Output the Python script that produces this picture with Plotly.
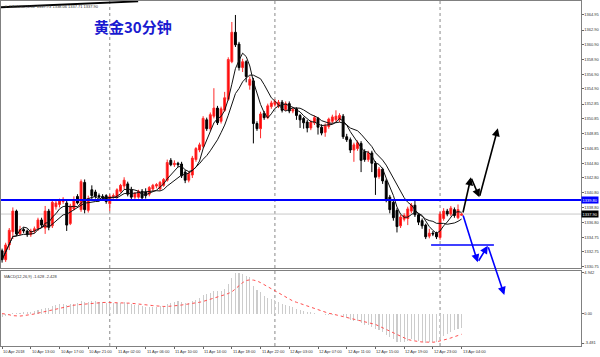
import plotly.graph_objects as go
import pandas as pd

# ---------------- data ----------------
bar_index = list(range(129))

opens = [1332.9, 1331.7, 1333.7, 1335.5, 1338.3, 1335.2, 1335.8, 1335.6, 1335.1, 1335.6,
         1335.9, 1337.1, 1336.0, 1338.3, 1336.3, 1338.9, 1339.2, 1339.6, 1339.4, 1336.6,
         1338.6, 1340.3, 1338.5, 1342.2, 1338.4, 1341.2, 1340.9, 1340.4, 1340.3, 1340.4,
         1339.3, 1340.3, 1340.2, 1341.0, 1341.7, 1342.0, 1341.2, 1340.2, 1340.2, 1341.0,
         1340.9, 1340.6, 1341.3, 1341.7, 1341.3, 1341.8, 1342.5, 1345.2, 1344.6, 1344.8,
         1344.7, 1343.6, 1342.5, 1343.2, 1345.3, 1346.6, 1347.1, 1350.7, 1349.5, 1351.2,
         1352.3, 1350.5, 1352.0, 1353.5, 1358.6, 1362.6, 1361.0, 1357.8, 1358.6, 1355.4,
         1356.0, 1350.2, 1349.5, 1351.6, 1351.0, 1352.5, 1352.8, 1352.6, 1353.1, 1352.1,
         1352.9, 1351.9, 1352.2, 1351.3, 1350.9, 1350.4, 1349.6, 1350.3, 1350.9, 1349.7,
         1349.0, 1349.8, 1350.5, 1350.7, 1350.7, 1351.2, 1348.4, 1348.0, 1346.6, 1346.8,
         1347.5, 1346.4, 1345.3, 1346.2, 1344.8, 1343.0, 1344.0, 1342.4, 1340.2, 1339.5,
         1338.4, 1336.3, 1337.2, 1337.3, 1338.3, 1339.1, 1337.8, 1337.0, 1336.4, 1334.9,
         1335.3, 1335.3, 1334.7, 1337.3, 1338.3, 1337.9, 1338.5, 1337.4, 1337.73]
highs = [1333.2, 1334.0, 1336.0, 1338.8, 1338.5, 1336.3, 1336.1, 1335.8, 1335.9, 1336.2,
         1337.4, 1337.4, 1339.0, 1338.6, 1339.8, 1339.8, 1340.0, 1340.2, 1339.9, 1339.3,
         1340.3, 1340.6, 1342.6, 1342.6, 1340.4, 1341.8, 1341.2, 1340.7, 1340.6, 1340.6,
         1340.6, 1340.7, 1341.4, 1342.0, 1342.9, 1342.3, 1341.6, 1340.9, 1341.2, 1341.3,
         1341.4, 1341.7, 1342.0, 1342.1, 1342.4, 1342.8, 1345.3, 1345.5, 1345.2, 1345.0,
         1345.0, 1343.9, 1343.7, 1345.8, 1347.0, 1347.6, 1351.2, 1351.0, 1351.7, 1355.0,
         1352.6, 1352.5, 1354.5, 1359.2, 1364.0, 1364.95, 1361.3, 1359.0, 1358.8, 1356.6,
         1356.4, 1350.5, 1351.8, 1351.9, 1352.9, 1353.3, 1353.5, 1353.4, 1353.4, 1353.2,
         1353.2, 1352.4, 1352.4, 1351.5, 1351.1, 1350.7, 1350.7, 1351.3, 1351.1, 1350.1,
         1350.2, 1351.0, 1351.4, 1352.0, 1351.6, 1351.5, 1348.8, 1348.3, 1347.6, 1347.9,
         1347.8, 1346.7, 1346.5, 1346.5, 1345.1, 1344.3, 1344.2, 1342.7, 1340.5, 1339.8,
         1338.7, 1337.8, 1338.0, 1338.9, 1339.4, 1339.8, 1338.0, 1337.3, 1336.6, 1335.9,
         1335.6, 1335.5, 1338.2, 1338.7, 1338.6, 1339.0, 1338.8, 1339.2, 1338.06]
lows = [1331.3, 1331.4, 1333.0, 1334.5, 1334.9, 1335.0, 1335.3, 1334.8, 1334.8, 1335.3,
        1335.6, 1336.1, 1335.2, 1335.7, 1336.0, 1338.5, 1338.8, 1339.3, 1335.6, 1336.4,
        1338.4, 1339.2, 1338.2, 1338.0, 1338.1, 1339.9, 1340.0, 1340.0, 1339.9, 1339.3,
        1338.3, 1340.0, 1340.0, 1340.8, 1341.3, 1340.3, 1339.9, 1339.9, 1340.0, 1339.8,
        1340.0, 1340.3, 1341.0, 1341.4, 1341.1, 1341.6, 1342.3, 1344.4, 1344.3, 1344.3,
        1342.8, 1342.1, 1342.2, 1342.8, 1345.0, 1346.3, 1346.8, 1349.2, 1349.2, 1350.9,
        1350.0, 1350.2, 1351.8, 1353.3, 1358.4, 1360.6, 1357.4, 1357.2, 1355.8, 1354.8,
        1347.5, 1349.2, 1348.2, 1350.7, 1350.8, 1352.2, 1352.5, 1352.3, 1351.7, 1351.9,
        1351.6, 1351.6, 1350.7, 1349.6, 1349.5, 1349.0, 1349.3, 1350.0, 1348.7, 1348.6,
        1348.4, 1349.5, 1350.2, 1350.4, 1350.4, 1348.1, 1347.7, 1346.2, 1345.0, 1346.5,
        1343.6, 1345.0, 1345.0, 1343.6, 1340.5, 1342.7, 1342.0, 1339.5, 1338.0, 1337.0,
        1335.4, 1336.0, 1336.9, 1336.4, 1338.0, 1337.5, 1336.4, 1335.9, 1334.5, 1334.6,
        1334.9, 1334.5, 1334.4, 1337.0, 1337.6, 1337.6, 1337.4, 1337.2, 1337.71]
closes = [1331.7, 1333.7, 1335.7, 1338.3, 1335.2, 1335.8, 1335.6, 1335.1, 1335.6, 1335.9,
          1337.1, 1336.4, 1338.3, 1336.1, 1339.5, 1339.4, 1339.7, 1339.9, 1336.4, 1339.0,
          1339.8, 1339.4, 1342.3, 1338.5, 1340.0, 1340.4, 1340.3, 1340.2, 1340.1, 1339.6,
          1340.3, 1340.4, 1341.2, 1341.8, 1342.5, 1340.6, 1340.2, 1340.7, 1341.0, 1340.1,
          1340.4, 1341.5, 1341.8, 1341.9, 1342.2, 1342.6, 1344.9, 1344.6, 1344.8, 1344.6,
          1343.1, 1342.5, 1343.4, 1345.5, 1346.8, 1347.3, 1350.9, 1349.5, 1351.4, 1352.3,
          1350.3, 1352.2, 1353.7, 1358.9, 1362.6, 1360.9, 1357.8, 1358.6, 1356.6, 1356.2,
          1350.2, 1349.5, 1351.5, 1351.0, 1352.6, 1353.0, 1353.2, 1353.1, 1352.0, 1352.9,
          1351.9, 1352.1, 1351.3, 1350.7, 1350.3, 1349.6, 1350.4, 1351.0, 1349.7, 1348.9,
          1349.9, 1350.8, 1351.1, 1351.2, 1351.3, 1348.4, 1348.0, 1346.6, 1347.3, 1347.6,
          1345.2, 1345.3, 1346.2, 1344.8, 1342.9, 1344.0, 1342.4, 1339.8, 1338.5, 1337.4,
          1336.2, 1337.5, 1337.7, 1338.6, 1339.1, 1337.8, 1336.8, 1336.3, 1334.8, 1335.3,
          1335.2, 1334.8, 1337.9, 1338.3, 1337.9, 1338.7, 1337.7, 1338.5, 1337.90]

macd_hist = [-0.35, -0.3, -0.15, 0.1, 0.1, 0.15, 0.2, 0.2, 0.25, 0.35,
             0.5, 0.6, 0.75, 0.75, 0.95, 1.05, 1.15, 1.25, 1.1, 1.15,
             1.25, 1.3, 1.5, 1.4, 1.45, 1.5, 1.5, 1.45, 1.4, 1.3,
             1.3, 1.3, 1.3, 1.35, 1.4, 1.3, 1.2, 1.1, 1.05, 0.95,
             0.85, 0.85, 0.85, 0.85, 0.9, 0.95, 1.2, 1.35, 1.45, 1.5,
             1.45, 1.35, 1.35, 1.5, 1.7, 1.9, 2.3, 2.35, 2.55, 2.7,
             2.7, 2.8, 3.0, 3.6, 4.3, 4.942, 4.85, 4.8, 4.6, 4.4,
             3.3, 2.9, 2.6, 2.2, 1.9, 1.8, 1.7, 1.4, 1.2, 1.05,
             0.95, 0.8, 0.65, 0.5, 0.4, 0.25, 0.2, 0.15, 0.05, -0.05,
             -0.1, -0.1, -0.1, -0.05, -0.05, -0.3, -0.45, -0.7, -0.8, -0.85,
             -1.1, -1.3, -1.35, -1.55, -1.85, -1.95, -2.15, -2.5, -2.8, -3.05,
             -3.35, -3.35, -3.3, -3.2, -3.05, -3.1, -3.2, -3.3, -3.481, -3.4,
             -3.35, -3.3, -2.95, -2.6, -2.35, -2.1, -1.95, -1.75, -1.628]
macd_signal = [0.05, 0.0, -0.1, -0.2, -0.25, -0.25, -0.2, -0.15, -0.1, 0.0,
               0.1, 0.2, 0.3, 0.4, 0.5, 0.6, 0.7, 0.8, 0.9, 0.95,
               1.05, 1.1, 1.15, 1.2, 1.25, 1.3, 1.32, 1.35, 1.37, 1.38,
               1.38, 1.37, 1.36, 1.35, 1.33, 1.3, 1.28, 1.25, 1.2, 1.15,
               1.1, 1.05, 1.0, 0.95, 0.92, 0.9, 0.9, 0.92, 0.97, 1.02,
               1.07, 1.12, 1.17, 1.22, 1.3, 1.4, 1.5, 1.62, 1.75, 1.9,
               2.05, 2.15, 2.3, 2.45, 2.65, 3.0, 3.4, 3.75, 4.0, 4.08,
               4.05, 3.95, 3.75, 3.5, 3.25, 3.0, 2.75, 2.5, 2.25, 2.0,
               1.75, 1.55, 1.4, 1.25, 1.1, 0.95, 0.8, 0.65, 0.5, 0.35,
               0.2, 0.08, 0.0, -0.1, -0.2, -0.3, -0.4, -0.5, -0.6, -0.7,
               -0.8, -0.9, -1.0, -1.1, -1.25, -1.45, -1.65, -1.85, -2.05, -2.3,
               -2.5, -2.7, -2.9, -3.05, -3.15, -3.25, -3.3, -3.35, -3.38, -3.4,
               -3.38, -3.33, -3.25, -3.12, -3.0, -2.87, -2.73, -2.58, -2.428]

time_tick_bars = [0, 8, 16, 24, 32, 40, 48, 56, 64, 72, 80, 88, 96, 104, 112, 120, 128]
time_tick_labels = ["10 Apr 2018", "10 Apr 13:00", "10 Apr 17:00", "10 Apr 21:00",
                    "11 Apr 02:00", "11 Apr 06:00", "11 Apr 10:00", "11 Apr 14:00",
                    "11 Apr 18:00", "11 Apr 22:00", "12 Apr 03:00", "12 Apr 07:00",
                    "12 Apr 11:00", "12 Apr 15:00", "12 Apr 19:00", "12 Apr 23:00",
                    "13 Apr 04:00"]
price_ticks = [1364.95, 1362.90, 1360.90, 1358.90, 1356.90, 1354.90, 1352.85, 1350.85,
               1348.85, 1346.85, 1344.80, 1342.80, 1340.80, 1338.80, 1336.80, 1334.75,
               1332.75, 1330.75]
macd_ticks = [4.942, 0.0, -3.481]
macd_tick_text = ["4.942", "0.00", "-3.481"]
day_breaks = [30, 76, 122]

resistance_level = 1339.80
support_level = 1333.70
support_span = [119.5, 137.0]
last_price = 1337.90
trend_x = [-0.3, 37.9]
trend_y = [1366.0, 1366.8]
black_path_x = [128.3, 130.6, 132.96, 138.1]
black_path_y = [1337.9, 1342.9, 1340.18, 1349.56]
blue_path_x = [128.3, 132.5, 135.3, 139.9]
blue_path_y = [1337.9, 1331.35, 1333.6, 1326.91]

title_text = "黄金30分钟"
header_text = "▼ XAUUSD,M30  1337.73 1338.06 1337.71 1337.90"
macd_text = "MACD(12,26,9) -1.628 -2.428"

# ---------------- indicators ----------------
cs = pd.Series(closes)
ma_fast = cs.rolling(5, min_periods=1).mean()
ma_slow = cs.rolling(10, min_periods=1).mean()

FAM = "Liberation Sans, Arial, sans-serif"
SMALL = dict(family=FAM, size=4.0, color="#333333")
X_RANGE = [-0.3, 161.26]

fig = go.Figure()
fig.add_trace(go.Candlestick(
    x=bar_index, open=opens, high=highs, low=lows, close=closes,
    increasing=dict(line=dict(color="#ff2a2a", width=1), fillcolor="#ff0000"),
    decreasing=dict(line=dict(color="#000000", width=1), fillcolor="#000000"),
    whiskerwidth=0, showlegend=False, hoverinfo="skip", xaxis="x", yaxis="y"))
fig.add_trace(go.Scatter(x=bar_index, y=ma_slow, mode="lines",
                         line=dict(color="#111111", width=1), showlegend=False,
                         hoverinfo="skip", xaxis="x", yaxis="y"))
fig.add_trace(go.Scatter(x=bar_index, y=ma_fast, mode="lines",
                         line=dict(color="#111111", width=1), showlegend=False,
                         hoverinfo="skip", xaxis="x", yaxis="y"))
fig.add_trace(go.Bar(x=bar_index, y=macd_hist, width=0.3, marker=dict(color="#cccccc", line=dict(width=0)),
                     showlegend=False, hoverinfo="skip", xaxis="x2", yaxis="y2"))
fig.add_trace(go.Scatter(x=bar_index, y=macd_signal, mode="lines",
                         line=dict(color="#ff5050", width=1, dash="dot"), showlegend=False,
                         hoverinfo="skip", xaxis="x2", yaxis="y2"))

shapes = []
for b in day_breaks:
    shapes.append(dict(type="line", xref="x", yref="paper", x0=b, x1=b, y0=0, y1=1,
                       line=dict(color="#8a8a8a", width=1, dash="dot"), layer="below"))
shapes.append(dict(type="line", xref="paper", yref="y", x0=0, x1=1, y0=last_price, y1=last_price,
                   line=dict(color="#c8c8c8", width=1), layer="below"))
shapes.append(dict(type="line", xref="paper", yref="y", x0=0, x1=1, y0=resistance_level,
                   y1=resistance_level, line=dict(color="#0000ff", width=2)))
shapes.append(dict(type="line", xref="x", yref="y", x0=support_span[0], x1=support_span[1],
                   y0=support_level, y1=support_level, line=dict(color="#0000ff", width=1.5)))
shapes.append(dict(type="line", xref="x", yref="y", x0=trend_x[0], x1=trend_x[1],
                   y0=trend_y[0], y1=trend_y[1], line=dict(color="#000000", width=2)))

annotations = []
for b, t in zip(time_tick_bars, time_tick_labels):
    annotations.append(dict(x=b, xref="x2", y=0, yref="paper", text=t, showarrow=False,
                            xanchor="left", yanchor="top", yshift=-1, xshift=-1, font=SMALL))
annotations.append(dict(x=0, xref="paper", y=1, yref="paper", text=header_text, showarrow=False,
                        xanchor="left", yanchor="top", xshift=1, yshift=-1, font=SMALL))
annotations.append(dict(x=0, xref="paper", y=0.2174, yref="paper", text=macd_text, showarrow=False,
                        xanchor="left", yanchor="top", xshift=1, yshift=-1, font=SMALL))
annotations.append(dict(x=0.2276, xref="paper", y=0.926, yref="paper", text="<b>" + title_text + "</b>",
                        showarrow=False, xanchor="center", yanchor="middle",
                        font=dict(family="Noto Sans CJK SC", size=15, color="#1a1ad0")))
annotations.append(dict(x=1, xref="paper", y=resistance_level, yref="y", text=f"{resistance_level:.2f}",
                        showarrow=False, xanchor="left", yanchor="middle", xshift=0, bgcolor="#0000ff",
                        borderpad=0.5, font=dict(family=FAM, size=4.0, color="#ffffff")))
annotations.append(dict(x=1, xref="paper", y=last_price, yref="y", text=f"{last_price:.2f}",
                        showarrow=False, xanchor="left", yanchor="middle", xshift=0, bgcolor="#000000",
                        borderpad=0.5, font=dict(family=FAM, size=4.0, color="#ffffff")))
for px, py, col in ((black_path_x, black_path_y, "#000000"), (blue_path_x, blue_path_y, "#0000ff")):
    for k in range(len(px) - 1):
        annotations.append(dict(x=px[k + 1], y=py[k + 1], ax=px[k], ay=py[k],
                                xref="x", yref="y", axref="x", ayref="y", text="",
                                showarrow=True, arrowhead=2, arrowsize=1, arrowwidth=1.6,
                                arrowcolor=col))

fig.update_layout(
    width=600, height=357,
    margin=dict(l=1, r=19, t=1, b=11),
    paper_bgcolor="#ffffff", plot_bgcolor="#ffffff",
    showlegend=False, bargap=0,
    boxgap=0.25,
    shapes=shapes, annotations=annotations,
    xaxis=dict(domain=[0, 1], anchor="y", range=X_RANGE, showticklabels=False, showgrid=False,
               zeroline=False, showline=True, mirror=True, linecolor="#808080", linewidth=1,
               ticks="", rangeslider=dict(visible=False), automargin=False),
    yaxis=dict(domain=[0.2261, 1], anchor="x", range=[1330.57, 1366.85], side="right",
               tickvals=price_ticks, ticktext=[f"{v:.2f}" for v in price_ticks],
               ticks="outside", ticklen=1.5, tickcolor="#666666", tickfont=SMALL,
               ticklabelstandoff=0, automargin=False,
               showgrid=False, zeroline=False, showline=True, mirror=True,
               linecolor="#808080", linewidth=1),
    xaxis2=dict(domain=[0, 1], anchor="y2", range=X_RANGE, matches="x",
                tickvals=time_tick_bars, showticklabels=False, ticks="outside", ticklen=2,
                tickcolor="#666666", showgrid=False, zeroline=False, showline=True, mirror=True,
                linecolor="#808080", linewidth=1, automargin=False),
    yaxis2=dict(domain=[0, 0.2174], anchor="x2", range=[-3.83, 5.14], side="right",
                tickvals=macd_ticks, ticktext=macd_tick_text, ticks="outside", ticklen=1.5,
                tickcolor="#666666", tickfont=SMALL, ticklabelstandoff=0, automargin=False,
                showgrid=False, zeroline=False,
                showline=True, mirror=True, linecolor="#808080", linewidth=1),
)

fig.write_html("out.html", config={"displayModeBar": False, "staticPlot": True},
               post_script="document.body.style.margin='0px';")
